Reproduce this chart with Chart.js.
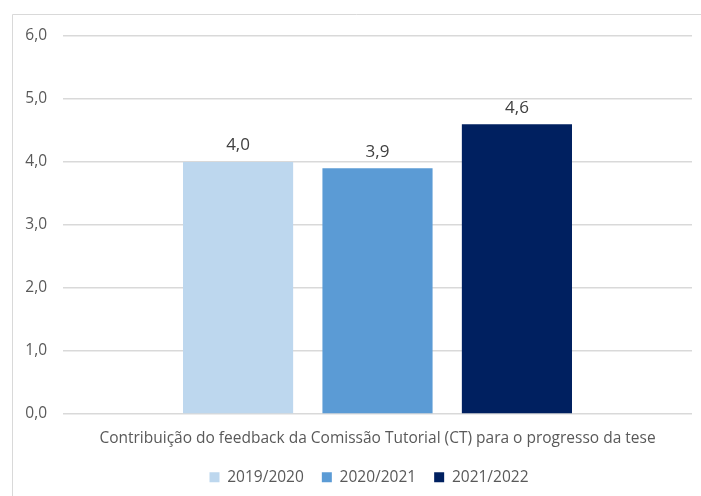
<!DOCTYPE html>
<html>
<head>
<meta charset="utf-8">
<script src="https://cdn.jsdelivr.net/npm/chart.js@4"></script>
<style>
  html, body { margin: 0; padding: 0; background: #fff; }
  #wrap { width: 701px; height: 496px; position: relative; }
</style>
</head>
<body>
<div id="wrap"><canvas id="myChart" width="701" height="496"></canvas></div>
<script>
// chart data
var categories = ["Contribuição do feedback da Comissão Tutorial (CT) para o progresso da tese"];
var seriesNames = ["2019/2020", "2020/2021", "2021/2022"];
var values2019 = [4.0];
var values2020 = [3.9];
var values2021 = [4.6];
var seriesColors = ["#BDD7EE", "#5B9BD5", "#002060"];

var FONT = "'Open Sans', 'Noto Sans', sans-serif";

// frame around the chart, like the spreadsheet chart box
var framePlugin = {
  id: "frame",
  beforeDraw: (chart) => {
    var ctx = chart.ctx;
    ctx.save();
    ctx.strokeStyle = "#d9d9d9";
    ctx.lineWidth = 1;
    ctx.beginPath();
    ctx.moveTo(12.5, 496);
    ctx.lineTo(12.5, 14.5);
    ctx.lineTo(701, 14.5);
    ctx.stroke();
    ctx.restore();
  }
};

// nudge the legend a bit to the right, as in the original
var legendShift = {
  id: "legendShift",
  afterLayout: (chart) => {
    chart.legend.left += 13;
    chart.legend.right += 13;
  }
};

// value labels above each bar
var valueLabels = {
  id: "valueLabels",
  afterDatasetsDraw: (chart) => {
    var ctx = chart.ctx;
    ctx.save();
    ctx.font = "17px " + FONT;
    ctx.fillStyle = "#404040";
    ctx.textAlign = "center";
    ctx.textBaseline = "bottom";
    chart.data.datasets.forEach((ds, i) => {
      chart.getDatasetMeta(i).data.forEach((bar, j) => {
        ctx.fillText(ds.data[j].toFixed(1).replace(".", ","), bar.x, bar.y - 8);
      });
    });
    ctx.restore();
  }
};

var ctx = document.getElementById("myChart").getContext("2d");
var myChart = new Chart(ctx, {
  type: "bar",
  data: {
    labels: categories,
    datasets: [
      { label: seriesNames[0], data: values2019, backgroundColor: seriesColors[0] },
      { label: seriesNames[1], data: values2020, backgroundColor: seriesColors[1] },
      { label: seriesNames[2], data: values2021, backgroundColor: seriesColors[2] }
    ]
  },
  options: {
    responsive: false,
    animation: false,
    categoryPercentage: 0.665,
    barPercentage: 0.79,
    layout: { padding: { left: 20, right: 9, top: 36, bottom: 1 } },
    plugins: {
      tooltip: { enabled: false },
      legend: {
        position: "bottom",
        labels: {
          boxWidth: 10,
          boxHeight: 10,
          padding: 18,
          color: "#595959",
          font: { family: FONT, size: 15.5 }
        }
      }
    },
    scales: {
      x: {
        afterFit: (scale) => { scale.height -= 3; },
        grid: { display: false },
        border: { display: false },
        ticks: {
          color: "#595959",
          padding: 7,
          maxRotation: 0,
          font: { family: FONT, size: 15.5 }
        }
      },
      y: {
        min: 0,
        max: 6,
        afterFit: (scale) => { scale.width = 43; },
        grid: { color: "#d9d9d9", lineWidth: 1.5, drawTicks: false },
        border: { display: false },
        ticks: {
          stepSize: 1,
          padding: 16,
          color: "#595959",
          font: { family: FONT, size: 15.5 },
          callback: (v) => v.toFixed(1).replace(".", ",")
        }
      }
    }
  },
  plugins: [framePlugin, legendShift, valueLabels]
});
</script>
</body>
</html>
